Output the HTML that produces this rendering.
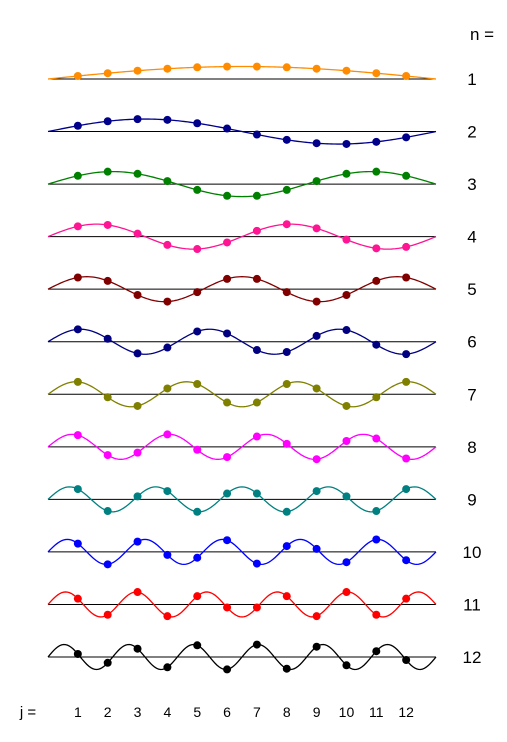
<!DOCTYPE html>
<html><head><meta charset="utf-8"><style>
html,body{margin:0;padding:0;background:#fff;}
svg{display:block;font-family:"Liberation Sans",sans-serif;}
</style></head><body>
<svg id="chart" width="507" height="742">
<text x="482" y="40" font-size="17" text-anchor="middle">n =</text>
<text x="28" y="717" font-size="15" text-anchor="middle">j =</text>
</svg>
<script>
const modes = [1,2,3,4,5,6,7,8,9,10,11,12];
const jValues = [1,2,3,4,5,6,7,8,9,10,11,12];
const colors = ["#ff8c00","#00008b","#008000","#ff1493","#800000","#000080","#808000","#ff00ff","#008080","#0000ff","#ff0000","#000000"];
const N = 12;
const amp = 12.5;

const svg = document.getElementById('chart');
const NS = "http://www.w3.org/2000/svg";
const x0 = 48, x1 = 436;
function xScale(j){ return x0 + j*(x1-x0)/(N+1); }
function baseY(i){ return 79 + i*(657-79)/11; }
function mk(tag, attrs){ const e=document.createElementNS(NS,tag); for(const k in attrs) e.setAttribute(k,attrs[k]); svg.appendChild(e); return e; }

jValues.forEach(j=>{
  const t = mk('text',{x:xScale(j), y:717, 'font-size':14, 'text-anchor':'middle'});
  t.textContent = j;
  
  
});

modes.forEach((n,i)=>{
  const by = baseY(i);
  const c = colors[i];
  const base = mk('line',{x1:x0, x2:x1, y1:by, y2:by, stroke:'#000', 'stroke-width':1});
  
  
  let d = '';
  for(let s=0;s<=200;s++){
    const j = s*(N+1)/200;
    const y = by - amp*Math.sin(n*j*Math.PI/(N+1));
    d += (s?'L':'M') + xScale(j).toFixed(2) + ' ' + y.toFixed(2);
  }
  const p = mk('path',{d:d, fill:'none', stroke:c, 'stroke-width':1.3});
  
  
  jValues.forEach(j=>{
    const y = by - amp*Math.sin(n*j*Math.PI/(N+1));
    const dot = mk('circle',{cx:xScale(j), cy:y, r:4, fill:c});
    
    
  });
  const lbl = mk('text',{x:472, y:by+6, 'font-size':17, 'text-anchor':'middle'});
  lbl.textContent = n;
  
  
});
</script>
</body></html>
